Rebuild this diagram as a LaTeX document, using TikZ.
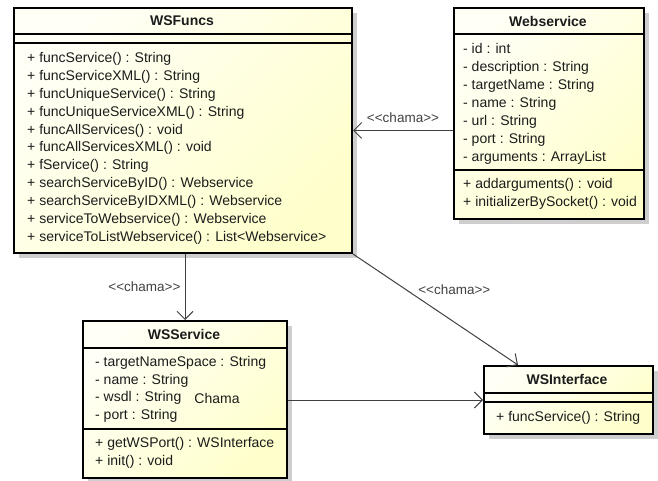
\documentclass[tikz,border=0pt]{standalone}
\usepackage{fontspec}
\newfontfamily\umlfont{Liberation Sans}
\usetikzlibrary{arrows.meta,shadows}
\definecolor{boxlight}{RGB}{255,255,246}
\definecolor{boxdark}{RGB}{255,255,204}
\definecolor{ink}{RGB}{28,28,28}
\definecolor{wire}{RGB}{64,64,64}
\definecolor{shadowgrey}{RGB}{206,206,206}
\tikzset{
  classbox/.style={draw=black, line width=2pt, inner sep=0pt, anchor=north west,
    left color=boxlight, right color=boxdark, shading angle=45,
    drop shadow={shadow xshift=5pt, shadow yshift=-5pt, fill=shadowgrey, opacity=1}},
  sepline/.style={draw=black, line width=1.3pt},
  classname/.style={font=\umlfont\fontsize{14}{17}\selectfont\bfseries, text=ink, inner sep=0pt},
  member/.style={font=\umlfont\fontsize{14}{17}\selectfont, text=ink, anchor=west, inner sep=0pt,
    text height=10pt, text depth=3pt},
  dep/.style={draw=wire, line width=1pt, -{Straight Barb[length=8pt,width=16pt,line width=1pt]}},
  stereo/.style={font=\umlfont\fontsize{13.5}{16}\selectfont, text=wire, inner sep=0pt}
}
\begin{document}
\begin{tikzpicture}[x=1pt,y=-1pt]
\useasboundingbox (0,0) rectangle (658,481);

% class WSFuncs
\node[classbox, minimum width=338pt, minimum height=245pt] (wsfuncs) at (13,7) {};
\draw[sepline] (13,34) -- (351,34);
\draw[sepline] (13,43) -- (351,43);
\node[classname] (wsfuncs-name) at (182,21) {WSFuncs};
\foreach \t [count=\i from 0] in {
  + funcService() : String,
  + funcServiceXML() : String,
  + funcUniqueService() : String,
  + funcUniqueServiceXML() : String,
  + funcAllServices() : void,
  + funcAllServicesXML() : void,
  + fService() : String,
  + searchServiceByID() : Webservice,
  + searchServiceByIDXML() : Webservice,
  + serviceToWebservice() : Webservice,
  + serviceToListWebservice() : List<Webservice>}
  \node[member] (wsfuncs-op\i) at (27,{59+17.9*\i}) {\t};

% class Webservice
\node[classbox, minimum width=190pt, minimum height=211pt] (webservice) at (453,7) {};
\draw[sepline] (453,34) -- (643,34);
\draw[sepline] (453,170) -- (643,170);
\node[classname] (webservice-name) at (548,21) {Webservice};
\foreach \t [count=\i from 0] in {
  - id : int,
  - description : String,
  - targetName : String,
  - name : String,
  - url : String,
  - port : String,
  - arguments : ArrayList}
  \node[member] (webservice-attr\i) at (463,{50+18*\i}) {\t};
\foreach \t [count=\i from 0] in {
  + addarguments() : void,
  + initializerBySocket() : void}
  \node[member] (webservice-op\i) at (463,{185+17.5*\i}) {\t};

% class WSService
\node[classbox, minimum width=204pt, minimum height=157pt] (wsservice) at (82,320) {};
\draw[sepline] (82,348) -- (286,348);
\draw[sepline] (82,429) -- (286,429);
\node[classname] (wsservice-name) at (184,334) {WSService};
\foreach \t [count=\i from 0] in {
  - targetNameSpace : String,
  - name : String,
  - wsdl : String,
  - port : String}
  \node[member] (wsservice-attr\i) at (95,{363+17.6*\i}) {\t};
\foreach \t [count=\i from 0] in {
  + getWSPort() : WSInterface,
  + init() : void}
  \node[member] (wsservice-op\i) at (95,{444+18*\i}) {\t};

% class WSInterface
\node[classbox, minimum width=169pt, minimum height=68pt] (wsinterface) at (483,365) {};
\draw[sepline] (483,393) -- (652,393);
\draw[sepline] (483,402) -- (652,402);
\node[classname] (wsinterface-name) at (567,379) {WSInterface};
\node[member] (wsinterface-op0) at (496,418) {+ funcService() : String};

% dependencies
\draw[dep] (webservice.west |- wsfuncs.east) -- (wsfuncs.east)
  node[stereo, midway, above=7pt] (chama-ws) {<<chama>>};
\draw[dep] (wsfuncs.south -| wsservice.north) -- (wsservice.north)
  node[stereo, midway, left=4pt] (chama-svc) {<<chama>>};
\draw[dep] (wsfuncs.south east) -- ([xshift=35pt]wsinterface.north west)
  node[stereo, pos=0.32, right=12pt] (chama-if) {<<chama>>};
\draw[dep] (wsservice.east |- wsinterface.west) -- (wsinterface.west);
\node[member, anchor=center] (assoc-name) at (217,400) {Chama};
\end{tikzpicture}
\end{document}
